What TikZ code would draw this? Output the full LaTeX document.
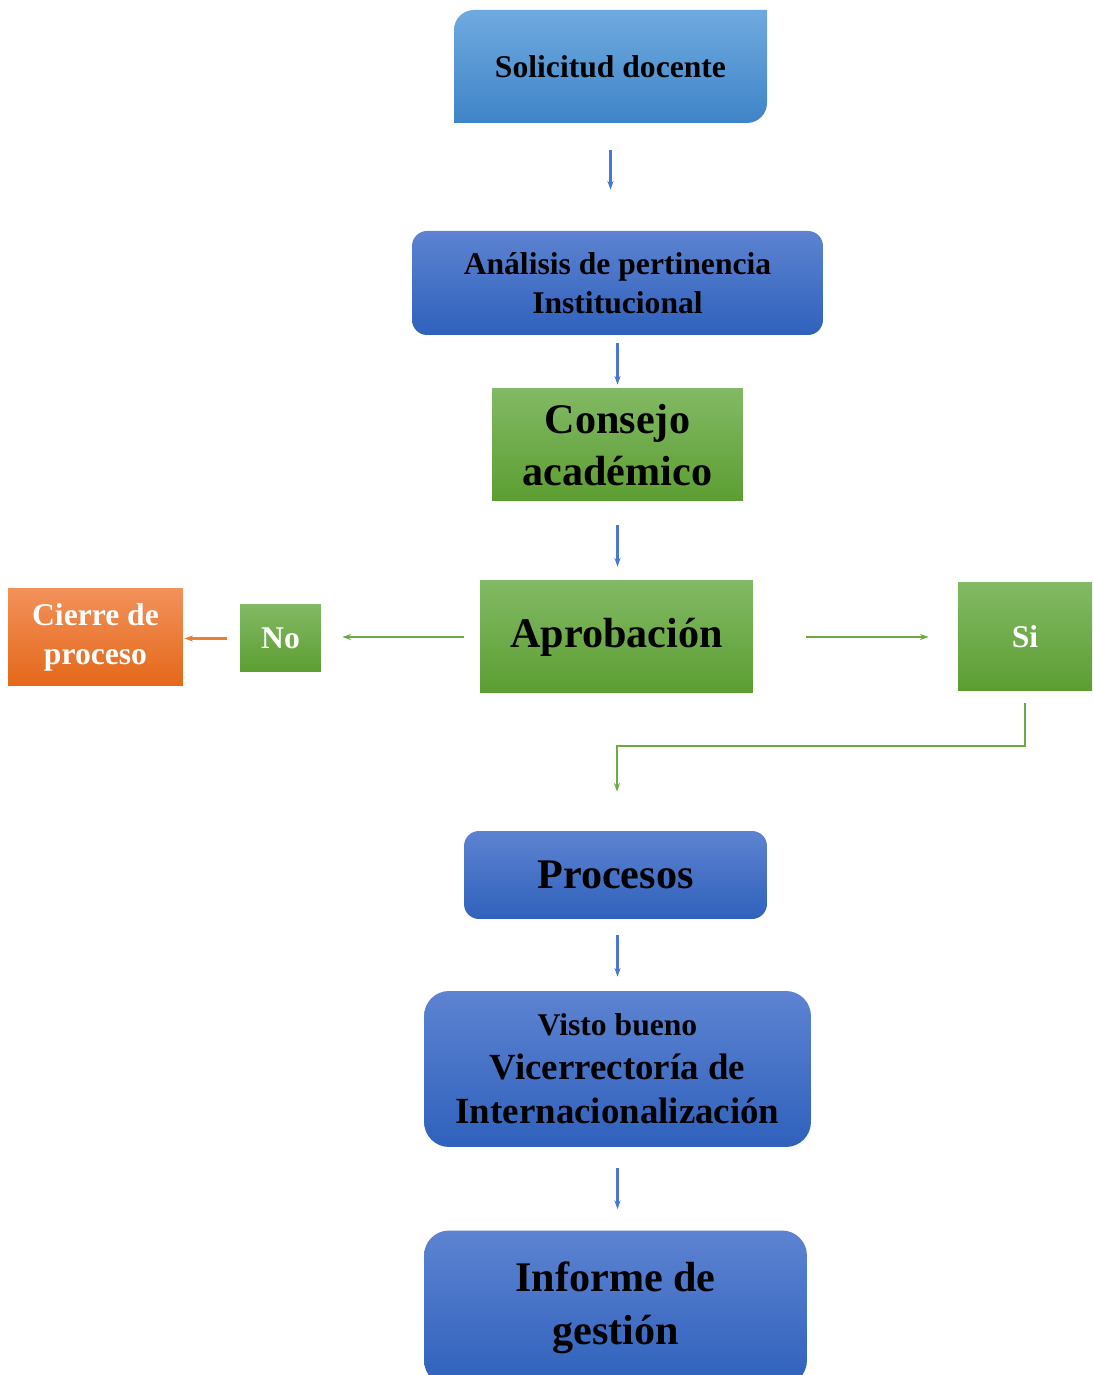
\documentclass[tikz,border=0pt]{standalone}
\usepackage{fontspec}
\setmainfont{Liberation Serif}
\usetikzlibrary{arrows.meta}

\definecolor{lblueT}{HTML}{6FAADF}
\definecolor{lblueB}{HTML}{3F84C8}
\definecolor{dblueT}{HTML}{5D83D1}
\definecolor{dblueB}{HTML}{2F61BC}
\definecolor{greenT}{HTML}{82B964}
\definecolor{greenB}{HTML}{5C9E32}
\definecolor{orangeT}{HTML}{F29159}
\definecolor{orangeB}{HTML}{E4681A}
\definecolor{arrblue}{HTML}{4A78D0}
\definecolor{arrgreen}{HTML}{6DAA45}
\definecolor{arrorange}{HTML}{ED7D31}

\newcommand{\fsmed}{\fontsize{18}{22}\selectfont}
\newcommand{\fsbig}{\fontsize{24}{30}\selectfont}
\newcommand{\fsvis}{\fontsize{21}{25}\selectfont}

\tikzset{
  box/.style={inner sep=0pt, align=center},
  medtxt/.style={font=\bfseries\fsmed},
  bigtxt/.style={font=\bfseries\fsbig},
  dbluebox/.style={box, top color=dblueT, bottom color=dblueB, rounded corners=0.3cm},
  greenbox/.style={box, top color=greenT, bottom color=greenB},
  orangebox/.style={box, top color=orangeT, bottom color=orangeB},
  bluearr/.style={draw=arrblue, line width=1.2pt, -{Stealth[length=5pt,width=3.5pt]}},
  greenarr/.style={draw=arrgreen, line width=1.4pt, -{Stealth[length=5pt,width=3.5pt]}},
  orangearr/.style={draw=arrorange, line width=1.4pt, -{Stealth[length=5pt,width=3.5pt]}}
}

\begin{document}
\begin{tikzpicture}[x=0.02cm, y=0.02cm]
		%%%%% START %%%%%
		\useasboundingbox (0,0) rectangle (1092,1375);
		
		% solicitud, two corners rounded
		\shade[top color=lblueT, bottom color=lblueB] (454,1252) -- (454,1345) arc[start angle=180, end angle=90, radius=0.4cm] -- (767,1365) -- (767,1272) arc[start angle=0, end angle=-90, radius=0.4cm] -- cycle;
		\node[box, medtxt, minimum width=6.26cm, minimum height=2.26cm] (sol) at (610.5,1308.5) {Solicitud docente};
		
		\node[dbluebox, medtxt, minimum width=8.22cm, minimum height=2.08cm] (ana) at (617.5,1092) {Análisis de pertinencia\\Institucional};
		\node[greenbox, bigtxt, minimum width=5.02cm, minimum height=2.24cm] (cons) at (617.5,930) {Consejo\\académico};
		
		\node[greenbox, bigtxt, minimum width=5.46cm, minimum height=2.24cm] (aprob) at (616.5,738) {Aprobación};
		\node[greenbox, medtxt, text=white, minimum width=2.68cm, minimum height=2.16cm] (si) at (1025,738) {Si};
		\node[greenbox, medtxt, text=white, minimum width=1.62cm, minimum height=1.34cm] (no) at (280.5,736.5) {No};
		\node[orangebox, medtxt, text=white, minimum width=3.5cm, minimum height=1.94cm] (cierre) at (95.5,737.5) {Cierre de\\proceso};
		
		\node[dbluebox, bigtxt, minimum width=6.06cm, minimum height=1.76cm] (proc) at (615.5,500) {Procesos};
		\node[dbluebox, font=\bfseries\fsvis, rounded corners=0.5cm, minimum width=7.74cm, minimum height=3.12cm] (visto) at (617.5,306) {{\fontsize{18}{22}\selectfont Visto bueno}\\Vicerrectoría de\\Internacionalización};
		\node[dbluebox, bigtxt, rounded corners=0.5cm, minimum width=7.66cm, minimum height=3.1cm] (inf) at (615.5,67) {Informe de\\gestión};
		
		% connectors
		\draw[bluearr, shorten <=0.54cm, shorten >=0.82cm] (sol.south) -- (sol.south |- ana.north);
		\draw[bluearr, shorten <=0.16cm, shorten >=0.08cm] (ana.south) -- (cons.north);
		\draw[bluearr, shorten <=0.48cm, shorten >=0.28cm] (cons.south) -- (cons.south |- aprob.north);
		\draw[greenarr, shorten <=0.32cm, shorten >=0.42cm] (aprob.west) -- (aprob.west -| no.east);
		\draw[greenarr, shorten <=1.06cm, shorten >=0.58cm] (aprob.east) -- (aprob.east -| si.west);
		\draw[orangearr, shorten <=0.26cm, shorten >=0.02cm] (no.west) -- (no.west -| cierre.east);
		
		\coordinate (bend) at (617,629);
		\draw[greenarr, line width=1.6pt, shorten <=0.24cm, shorten >=0.78cm] (si.south) |- (bend) -- (bend |- proc.north);
		
		\draw[bluearr, shorten <=0.32cm, shorten >=0.28cm] (visto.north |- proc.south) -- (visto.north);
		\draw[bluearr, shorten <=0.42cm, shorten >=0.42cm] (visto.south) -- (visto.south |- inf.north);
		
		%%%%% END %%%%%
	\end{tikzpicture}
\end{document}
